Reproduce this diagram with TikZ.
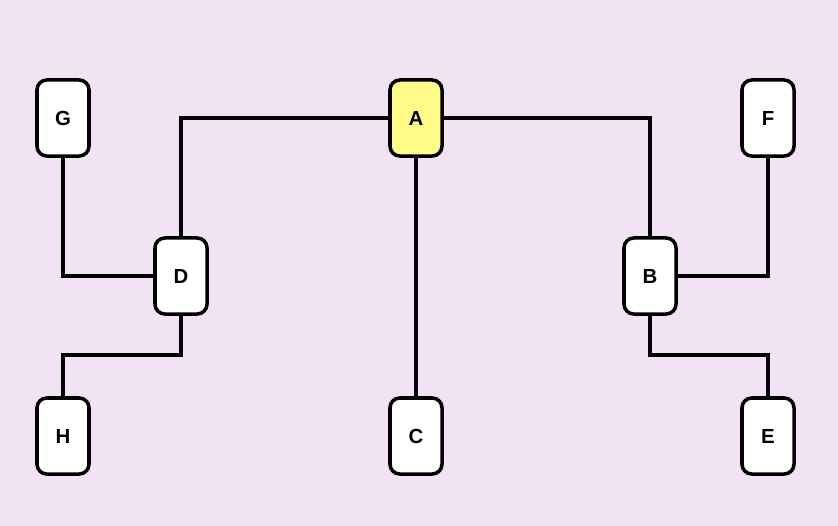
\documentclass[tikz,border=0pt]{standalone}
\usepackage{fontspec}
\setmainfont{Liberation Sans}
\usepackage{xcolor}
\usetikzlibrary{positioning, calc}
\definecolor{canvas}{HTML}{F2E3F4}
\definecolor{rootfill}{HTML}{FFFC87}
\definecolor{ink}{HTML}{000000}

\begin{document}
\begin{tikzpicture}[x=0.025cm, y=-0.025cm,
    treenode/.style={draw=ink, fill=white, line width=2.5pt, rounded corners=7pt,
        minimum width=1.3cm, minimum height=1.9cm, inner sep=0pt,
        font=\fontsize{14.5}{16}\selectfont\bfseries},
    rootnode/.style={treenode, fill=rootfill},
    link/.style={draw=ink, line width=2.5pt}]
% Tree of boxes on a lavender canvas
\fill[canvas] (0,0) rectangle (838,526);
\useasboundingbox (0,0) rectangle (838,526);

\node[rootnode] (a) at (416,118) {A};
\node[treenode] (g) at (63,118) {G};
\node[treenode] (f) at (768,118) {F};
\node[treenode] (d) at (181,276) {D};
\node[treenode] (b) at (650,276) {B};
\node[treenode] (h) at (63,436) {H};
\node[treenode] (c) at (416,436) {C};
\node[treenode] (e) at (768,436) {E};

\coordinate (dh) at (63,355);
\coordinate (be) at (768,355);

\draw[link] (a.west) -| (d.north);
\draw[link] (a.east) -| (b.north);
\draw[link] (a.south) -- (c.north);
\draw[link] (g.south) |- (d.west);
\draw[link] (f.south) |- (b.east);
\draw[link] (d.south) |- (dh) -- (h.north);
\draw[link] (b.south) |- (be) -- (e.north);
\end{tikzpicture}
\end{document}
